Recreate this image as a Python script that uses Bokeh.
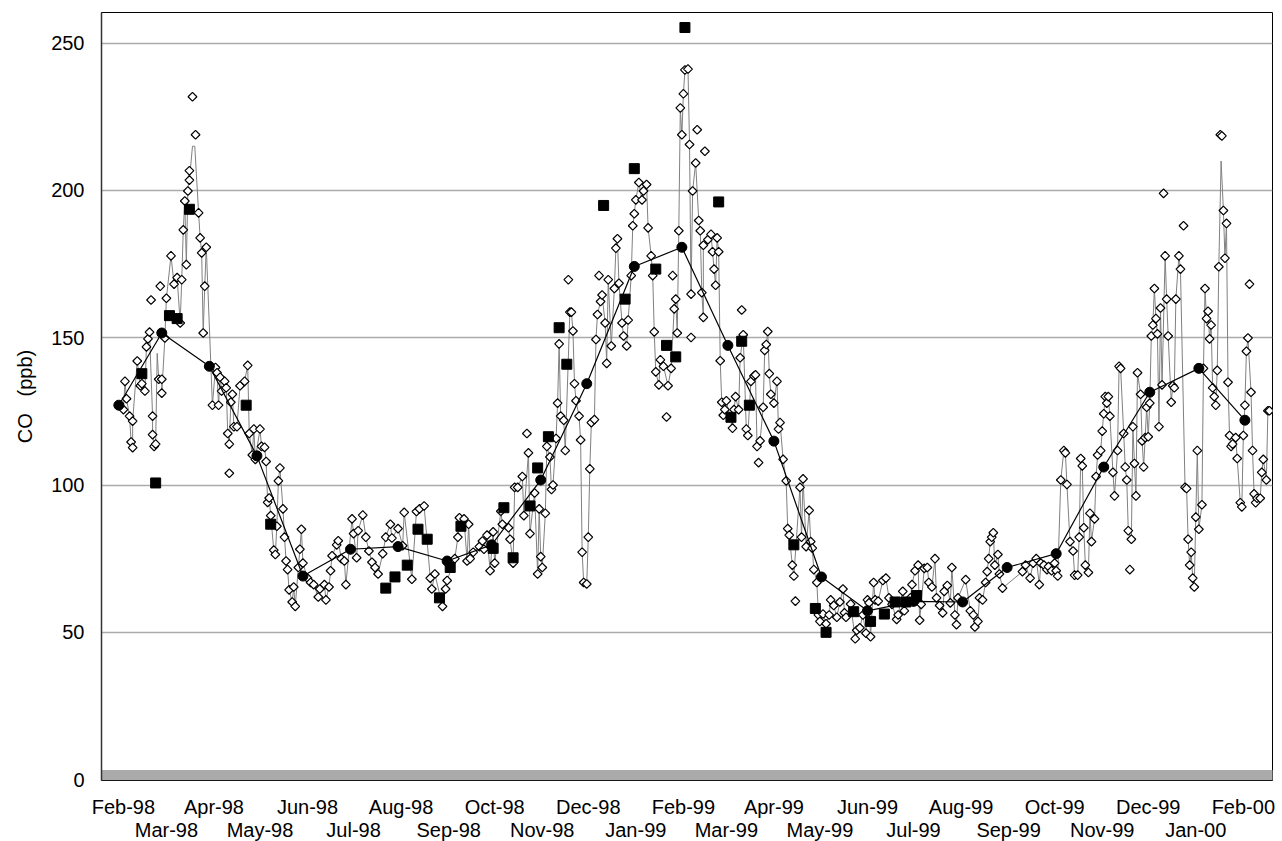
from datetime import date, datetime
from math import pi
from bokeh.plotting import figure
from bokeh.models import Range1d, LinearAxis, FixedTicker, BoxAnnotation
from bokeh.embed import file_html
from bokeh.resources import INLINE

# ---------------- data (x = days since 1998-01-01, y = CO ppb) ----------------
month_labels = ["Feb-98", "Mar-98", "Apr-98", "May-98", "Jun-98", "Jul-98", "Aug-98",
                "Sep-98", "Oct-98", "Nov-98", "Dec-98", "Jan-99", "Feb-99", "Mar-99",
                "Apr-99", "May-99", "Jun-99", "Jul-99", "Aug-99", "Sep-99", "Oct-99",
                "Nov-99", "Dec-99", "Jan-00", "Feb-00"]
y_ticks = [0, 50, 100, 150, 200, 250]

# daily values lying on the grey line
daily_day = [31, 32, 33, 35, 36, 37, 37, 40, 42, 43, 45, 46, 47, 48, 50, 50, 51, 52, 54, 56,
             56, 58, 59, 62, 64, 66, 68, 69, 70, 71, 72, 73, 74, 74, 80, 81, 82, 83, 84, 85,
             89, 91, 92, 93, 94, 95, 97, 98, 99, 100, 101, 102, 103, 105, 107, 110, 112, 113, 115, 116,
             117, 120, 121, 123, 124, 125, 126, 127, 129, 130, 131, 132, 133, 135, 136, 137, 138, 139, 141, 142,
             143, 145, 146, 147, 148, 151, 153, 155, 158, 159, 162, 163, 165, 166, 167, 170, 171, 173, 175, 176,
             180, 181, 183, 184, 187, 189, 191, 193, 195, 197, 200, 202, 205, 206, 210, 213, 214, 219, 222, 224,
             227, 231, 232, 234, 239, 241, 242, 247, 249, 250, 253, 255, 256, 257, 259, 263, 265, 266, 268, 270,
             272, 273, 277, 278, 282, 283, 285, 286, 288, 291, 292, 295, 296, 299, 301, 302, 303, 304, 306, 307,
             309, 310, 311, 313, 314, 315, 316, 318, 319, 322, 323, 324, 325, 326, 328, 329, 330, 331, 333, 334,
             335, 336, 338, 339, 340, 342, 343, 345, 346, 347, 349, 351, 352, 353, 354, 356, 357, 359, 360, 362,
             363, 364, 365, 367, 369, 370, 372, 373, 375, 376, 377, 378, 380, 381, 383, 386, 388, 390, 391, 392,
             393, 394, 395, 396, 397, 399, 400, 401, 402, 404, 406, 407, 408, 409, 409, 412, 414, 415, 416, 417,
             418, 419, 420, 421, 422, 423, 424, 428, 429, 430, 432, 433, 435, 437, 438, 440, 442, 443, 444, 446,
             448, 449, 450, 451, 452, 453, 455, 457, 458, 459, 461, 463, 464, 465, 467, 468, 472, 473, 474, 476,
             478, 479, 480, 481, 483, 484, 485, 487, 489, 491, 492, 494, 496, 498, 500, 501, 502, 505, 508, 509,
             511, 513, 515, 516, 517, 518, 520, 521, 523, 526, 528, 530, 532, 535, 536, 539, 540, 544, 545, 547,
             549, 550, 551, 553, 555, 556, 558, 560, 561, 563, 565, 566, 568, 570, 571, 573, 574, 575, 580, 583,
             585, 586, 588, 589, 591, 593, 594, 595, 596, 597, 598, 599, 601, 602, 604, 617, 619, 622, 624, 626,
             628, 629, 631, 633, 634, 636, 638, 639, 640, 642, 644, 645, 646, 648, 650, 651, 653, 654, 655, 656,
             657, 658, 660, 661, 662, 664, 665, 666, 668, 669, 670, 671, 672, 673, 674, 676, 677, 679, 680, 681,
             683, 684, 685, 686, 688, 689, 690, 691, 692, 694, 695, 696, 697, 698, 699, 700, 701, 702, 703, 704,
             705, 706, 707, 708, 710, 711, 712, 714, 715, 716, 717, 719, 720, 723, 724, 725, 726, 727, 728, 729,
             730, 731, 732, 734, 735, 736, 737, 738, 739, 740, 741, 742, 743, 744, 745, 748, 749, 750, 751, 752,
             753, 754, 756, 757, 759, 760, 761, 762, 763, 764, 766, 767, 768, 769, 770, 772, 773, 774, 776, 777]
daily_co = [125.6, 135.2, 129.3, 123.4, 114.6, 112.7, 121.7, 142.1, 133.7, 134.4, 131.9, 146.9, 149.6, 151.9, 123.4, 117.1, 113.1, 113.9, 135.9, 135.9,
            131.2, 149.9, 163.4, 177.8, 168.2, 170.4, 155.0, 169.7, 186.6, 196.4, 174.8, 199.8, 206.7, 203.5, 192.4, 183.9, 178.8, 151.6, 167.5, 180.7,
            127.1, 139.9, 138.1, 127.1, 136.6, 131.9, 135.2, 133.0, 117.5, 113.9, 128.1, 130.8, 119.8, 119.8, 133.7, 135.2, 140.6, 117.5, 110.2, 119.0,
            108.7, 119.0, 113.1, 112.8, 108.0, 94.1, 95.6, 89.6, 77.9, 76.4, 86.0, 101.4, 105.8, 91.9, 82.3, 74.2, 71.3, 64.4, 60.3, 65.4,
            58.8, 72.0, 78.2, 85.0, 73.5, 68.4, 66.9, 66.2, 62.0, 64.7, 66.2, 61.0, 65.4, 70.9, 76.0, 79.7, 81.1, 75.0, 74.2, 66.2,
            88.5, 83.5, 75.3, 84.5, 89.8, 82.3, 77.6, 73.8, 72.0, 69.8, 76.7, 82.3, 86.7, 82.0, 85.2, 79.4, 90.7, 68.0, 91.0, 91.9,
            92.9, 68.4, 64.7, 69.8, 58.8, 64.7, 67.6, 75.0, 82.3, 88.9, 88.5, 74.2, 86.7, 75.0, 77.2, 79.1, 81.0, 78.2, 83.0, 70.9,
            84.1, 73.5, 91.1, 86.7, 85.5, 81.6, 73.5, 99.2, 99.2, 102.9, 89.6, 110.9, 83.5, 97.3, 69.8, 91.9, 75.7, 72.0, 90.4, 113.1,
            109.5, 98.5, 100.0, 115.8, 127.8, 147.9, 123.4, 122.0, 111.7, 158.7, 158.7, 152.3, 134.4, 128.6, 123.4, 115.3, 77.2, 66.9, 66.4, 82.3,
            105.5, 121.2, 122.2, 149.4, 157.9, 162.3, 164.5, 155.0, 141.3, 169.7, 147.2, 166.7, 180.4, 183.6, 168.5, 155.0, 150.6, 147.2, 156.0, 171.1,
            188.0, 192.1, 196.8, 202.7, 196.8, 199.8, 202.0, 187.3, 177.8, 171.1, 152.0, 138.4, 134.0, 142.5, 140.3, 133.7, 139.6, 159.8, 163.1, 151.6,
            186.3, 228.0, 218.9, 232.8, 240.9, 241.2, 215.6, 164.8, 199.8, 209.3, 189.8, 186.3, 165.3, 156.9, 181.4, 183.3, 185.1, 179.2, 173.3, 167.8,
            183.9, 179.2, 142.2, 128.1, 123.7, 125.6, 128.6, 119.3, 125.6, 130.0, 125.6, 143.2, 151.0, 119.0, 116.8, 135.2, 137.0, 137.4, 113.1, 115.0,
            126.4, 145.7, 147.7, 152.1, 137.8, 130.8, 127.8, 135.2, 119.0, 121.2, 108.7, 101.4, 85.2, 83.0, 72.8, 69.1, 99.2, 82.3, 102.1, 79.1,
            91.4, 80.8, 78.6, 71.3, 66.9, 55.9, 53.7, 56.2, 52.9, 55.9, 61.0, 59.1, 55.1, 60.3, 64.7, 56.6, 55.1, 59.6, 47.8, 50.7,
            51.5, 55.9, 49.7, 61.0, 60.0, 48.5, 66.9, 61.0, 60.6, 67.6, 68.4, 61.7, 59.5, 54.4, 55.9, 63.9, 57.3, 61.7, 66.2, 70.9,
            72.8, 54.1, 59.5, 71.7, 72.0, 66.9, 65.4, 75.0, 61.7, 59.1, 56.6, 63.9, 65.9, 60.0, 72.0, 55.9, 52.6, 61.7, 67.9, 57.3,
            55.9, 51.8, 53.7, 61.7, 61.0, 66.9, 70.6, 75.0, 80.8, 82.3, 83.8, 72.8, 76.4, 69.8, 65.0, 70.6, 72.8, 68.4, 73.5, 75.0,
            66.2, 73.5, 72.8, 71.3, 72.3, 70.9, 73.5, 70.9, 69.1, 101.7, 111.7, 110.9, 100.2, 80.8, 77.6, 69.4, 69.4, 82.3, 109.0, 106.5,
            85.5, 72.8, 70.3, 90.4, 80.8, 88.5, 102.9, 110.2, 111.7, 118.3, 124.2, 130.0, 127.8, 130.0, 123.4, 104.3, 96.3, 111.7, 140.3, 139.6,
            117.5, 106.1, 101.7, 84.5, 81.6, 119.8, 107.3, 96.3, 138.1, 130.8, 115.0, 106.1, 116.1, 126.4, 116.4, 127.8, 150.6, 154.3, 166.7, 156.5,
            151.3, 119.8, 160.1, 134.0, 177.8, 163.1, 150.6, 128.1, 133.7, 133.0, 163.1, 177.8, 173.3, 99.2, 98.8, 81.6, 72.8, 77.2, 68.4, 65.4,
            89.1, 111.7, 85.0, 93.3, 139.6, 166.7, 156.5, 159.0, 149.6, 154.3, 133.0, 130.0, 127.1, 138.9, 174.1, 193.2, 177.0, 188.8, 134.9, 116.8,
            113.1, 113.9, 116.1, 109.0, 94.0, 92.6, 116.8, 127.1, 145.4, 149.9, 131.5, 111.7, 97.0, 94.0, 95.5, 95.5, 104.3, 108.7, 101.7, 125.2]

# daily values standing off the grey line
extra_day = [49, 55, 76, 78, 100, 294, 321, 341, 385, 389, 401, 405, 410, 434, 445, 469, 687, 709, 722, 746, 747, 765, 778]
extra_co = [162.8, 167.5, 231.8, 218.9, 104.0, 117.5, 169.7, 171.1, 123.1, 171.1, 150.1, 220.6, 213.3, 159.4, 107.6, 60.6, 71.3, 199.0, 188.0, 218.9, 218.5, 168.2, 125.2]

# grey-line vertices without a marker
spike_day = [53, 76, 77.5, 746.5]
spike_co = [144.7, 215.0, 215.0, 210.0]

# individual samples (filled squares)
sample_day = [43, 52, 61, 66, 74, 111, 127, 202, 208, 216, 223, 229, 237, 244, 251, 272, 279, 285, 296, 301,
              308, 315, 320, 344, 358, 364, 378, 385, 391, 397, 419, 427, 434, 439, 468, 482, 489, 507, 518, 527,
              534, 541, 548]
sample_co = [137.8, 100.7, 157.5, 156.5, 193.6, 127.1, 86.7, 65.0, 68.8, 72.8, 85.0, 81.6, 61.7, 72.0, 86.0, 78.5, 92.3, 75.3, 92.9, 105.8,
             116.4, 153.4, 141.0, 194.9, 163.1, 207.4, 173.3, 147.4, 143.5, 255.3, 196.1, 123.0, 148.8, 127.1, 79.7, 58.1, 50.0, 57.0, 53.7, 56.2,
             60.3, 60.3, 62.5]

# monthly means (filled circles joined by a black line)
mean_day = [28, 56, 87, 118, 148, 179, 210, 242, 271, 303, 333, 364, 395, 425, 455, 486, 516, 546, 578, 607,
            639, 670, 700, 732, 762]
mean_co = [127.1, 151.6, 140.3, 109.9, 69.1, 78.2, 79.1, 74.2, 79.7, 101.7, 134.4, 174.2, 180.7, 147.4, 114.9, 68.8, 57.3, 60.5, 60.3, 72.0,
           76.7, 106.1, 131.5, 139.6, 122.0]

# ---------------- helpers ----------------
EPOCH = date(1998, 1, 1)


def day_of(label):
    return (datetime.strptime(label, "%b-%y").date() - EPOCH).days


line_pts = sorted(list(zip(daily_day, daily_co)) + list(zip(spike_day, spike_co)), key=lambda t: t[0])
line_day = [t[0] for t in line_pts]
line_co = [t[1] for t in line_pts]
diam_day = daily_day + extra_day
diam_co = daily_co + extra_co

FONT = "Liberation Sans"
FS = "20px"

p = figure(frame_width=1171, frame_height=768,
           x_range=Range1d(16.7, 780.0), y_range=Range1d(-0.3, 260.4),
           x_axis_type=None, output_backend="svg", toolbar_location=None,
           min_border_left=101, min_border_right=10, min_border_top=12, min_border_bottom=58,
           background_fill_color="white", border_fill_color="white")

p.outline_line_color = "black"
p.outline_line_width = 1
p.outline_line_alpha = 1

# y axis
ya = p.yaxis[0]
ya.ticker = FixedTicker(ticks=y_ticks)
ya.major_tick_line_color = None
ya.minor_tick_line_color = None
ya.major_tick_out = 0
ya.major_tick_in = 0
ya.axis_line_color = "#333333"
ya.axis_line_width = 1.5
ya.major_label_standoff = 17
ya.major_label_text_font = FONT
ya.major_label_text_font_size = FS
ya.major_label_text_color = "black"
ya.axis_label = "CO\u00a0\u00a0\u00a0(ppb)"
ya.axis_label_text_font = FONT
ya.axis_label_text_font_size = FS
ya.axis_label_text_font_style = "normal"
ya.axis_label_text_color = "black"
ya.axis_label_standoff = 12

p.ygrid.ticker = FixedTicker(ticks=y_ticks)
p.ygrid.grid_line_color = "#ababab"
p.ygrid.grid_line_width = 1.6

# two rows of month labels
upper = month_labels[0::2]
lower = month_labels[1::2]
for labels, standoff in ((upper, 15), (lower, -2)):
    ax = LinearAxis(ticker=FixedTicker(ticks=[day_of(l) for l in labels]),
                    major_label_overrides={day_of(l): l for l in labels})
    ax.axis_line_color = None
    ax.major_tick_line_color = None
    ax.minor_tick_line_color = None
    ax.major_tick_out = 0
    ax.major_tick_in = 0
    ax.major_label_standoff = standoff
    ax.major_label_text_font = FONT
    ax.major_label_text_font_size = FS
    ax.major_label_text_color = "black"
    p.add_layout(ax, "below")

# grey floor band at zero
band = BoxAnnotation(left=45, left_units="canvas", right=1282, right_units="canvas",
                     bottom=0, top=3.3, fill_color="#aaaaaa", fill_alpha=1.0,
                     line_color=None, level="underlay")
p.add_layout(band)

# glyphs
p.line(line_day, line_co, line_color="#808080", line_width=1)
p.scatter(diam_day, diam_co, marker="square", angle=pi / 4, size=6.2,
          fill_color="white", line_color="black", line_width=1.2)
p.line(mean_day, mean_co, line_color="black", line_width=1.2)
p.scatter(mean_day, mean_co, marker="circle", size=10, fill_color="black", line_color="black")
p.scatter(sample_day, sample_co, marker="square", size=10, fill_color="black", line_color="black")

open("out.html", "w").write(file_html(p, INLINE))
